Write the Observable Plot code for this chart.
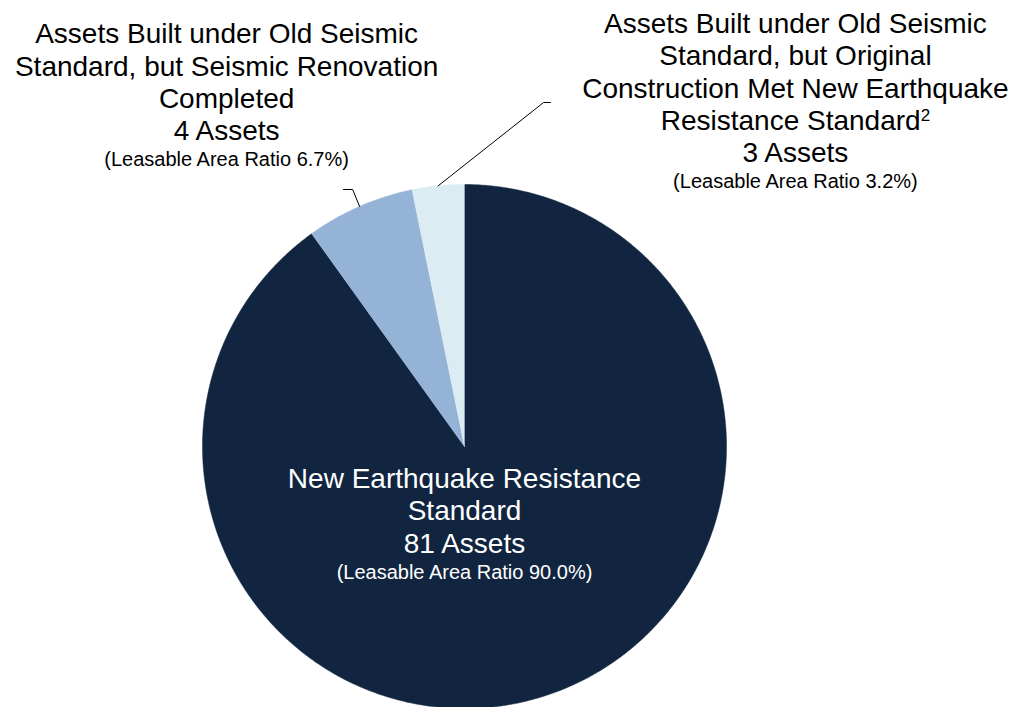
<!DOCTYPE html>
<html>
<head>
<meta charset="utf-8">
<script src="https://cdn.jsdelivr.net/npm/d3@7"></script>
<script src="https://cdn.jsdelivr.net/npm/@observablehq/plot@0.6"></script>
<style>
  html, body { margin: 0; padding: 0; background: #fff; }
  #chart svg { display: block; font-family: "Liberation Sans", Arial, sans-serif; }
</style>
</head>
<body>
<div id="chart"></div>
<script>
// ---- Data ----
const categories = [
  "New Earthquake Resistance Standard",
  "Old Standard, Seismic Renovation Completed",
  "Old Standard, Original Construction Met New Standard"
];
const shares = [90.0, 6.7, 3.2];          // leasable area ratio, %
const assetCounts = [81, 4, 3];
const titleLines = [
  ["New Earthquake Resistance", "Standard"],
  ["Assets Built under Old Seismic", "Standard, but Seismic Renovation", "Completed"],
  ["Assets Built under Old Seismic", "Standard, but Original", "Construction Met New Earthquake", "Resistance Standard\u00B2"]
];
const colors = ["#112540", "#95b3d7", "#dbedf3"];

// ---- Layout (unit-circle coordinates; pie radius = 1) ----
const W = 1014, H = 707;
const CX = 464, CY = 446, R = 262;     // pie centre & radius in px
const labelPos = [
  {x: 0.0,    yBig: -0.405, ySmall: -0.505, fill: "#ffffff"},
  {x: -0.908, yBig: 1.168,  ySmall: 1.072,  fill: "#000000"},
  {x: 1.263,  yBig: 1.084,  ySmall: 0.985,  fill: "#000000"}
];
const leaderElbows = [
  null,
  [{x: -0.427, y: 0.981}, {x: -0.462, y: 0.981}],
  [{x: 0.302, y: 1.313}, {x: 0.328, y: 1.313}]
];

// ---- Build slices ----
const total = d3.sum(shares);
let acc = 0;
const slices = shares.map((v, i) => {
  const a0 = acc / total * 2 * Math.PI;
  acc += v;
  const a1 = acc / total * 2 * Math.PI;
  return {key: categories[i], a0, a1, mid: (a0 + a1) / 2};
});
const polyPts = [];
slices.forEach(s => {
  polyPts.push({key: s.key, x: 0, y: 0});
  const steps = Math.max(2, Math.ceil((s.a1 - s.a0) / (Math.PI / 360)));
  for (let k = 0; k <= steps; k++) {
    const a = s.a0 + (s.a1 - s.a0) * k / steps;
    polyPts.push({key: s.key, x: Math.sin(a), y: Math.cos(a)});
  }
});

// leader lines
const leaderPts = [];
slices.forEach((s, i) => {
  if (!leaderElbows[i]) return;
  leaderPts.push({key: s.key, x: Math.sin(s.mid), y: Math.cos(s.mid)});
  leaderElbows[i].forEach(p => leaderPts.push({key: s.key, ...p}));
});

// labels
const bigLabels = categories.map((c, i) => ({
  text: [...titleLines[i], `${assetCounts[i]} Assets`].join("\n"),
  x: labelPos[i].x, y: labelPos[i].yBig, fill: labelPos[i].fill
}));
const smallLabels = categories.map((c, i) => ({
  text: `(Leasable Area Ratio ${shares[i].toFixed(1)}%)`,
  x: labelPos[i].x, y: labelPos[i].ySmall, fill: labelPos[i].fill
}));

const chart = Plot.plot({
  width: W,
  height: H,
  margin: 0,
  x: {domain: [-CX / R, (W - CX) / R], range: [0, W], axis: null},
  y: {domain: [-(H - CY) / R, CY / R], range: [H, 0], axis: null},
  color: {domain: categories, range: colors},
  style: {fontFamily: "'Liberation Sans', Arial, sans-serif", background: "#fff"},
  marks: [
    Plot.line(polyPts, {x: "x", y: "y", z: "key", fill: "key", stroke: "key", strokeWidth: 0.5, curve: "linear"}),
    Plot.line(leaderPts, {x: "x", y: "y", z: "key", stroke: "#000", strokeWidth: 1}),
    Plot.text(bigLabels, {x: "x", y: "y", text: "text", fill: d => d.fill, fontSize: 28, lineHeight: 1.16, lineAnchor: "bottom", textAnchor: "middle"}),
    Plot.text(smallLabels, {x: "x", y: "y", text: "text", fill: d => d.fill, fontSize: 20, lineAnchor: "bottom", textAnchor: "middle"})
  ]
});

// render the footnote marker as a true superscript (smaller, raised) while keeping it as text;
// baseline-shift does not move the following lines (unlike dy)
chart.querySelectorAll("tspan, text").forEach(el => {
  if (el.childNodes.length === 1 && el.firstChild.nodeType === 3 && el.textContent.includes("\u00B2")) {
    const parts = el.textContent.split("\u00B2");
    el.textContent = parts[0];
    const sup = document.createElementNS("http://www.w3.org/2000/svg", "tspan");
    sup.setAttribute("font-size", "17");
    sup.setAttribute("baseline-shift", "9");
    sup.textContent = "2";
    el.appendChild(sup);
  }
});
document.getElementById("chart").appendChild(chart);
</script>
</body>
</html>
